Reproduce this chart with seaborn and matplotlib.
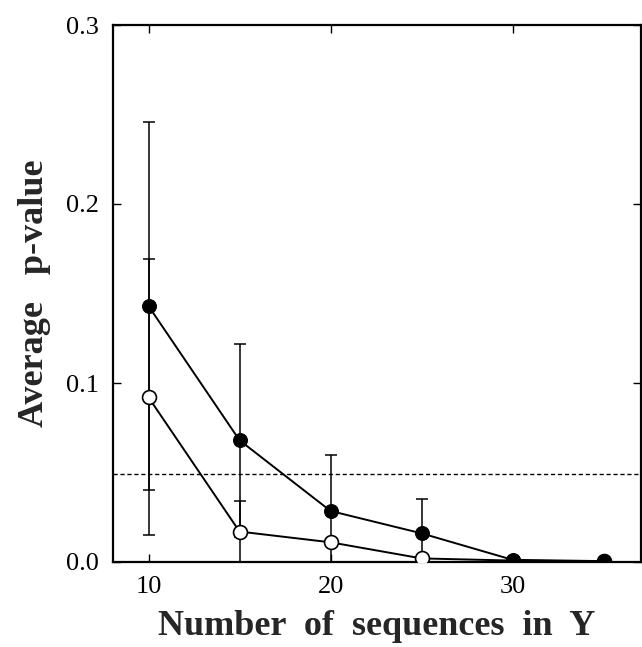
import numpy as np
import pandas as pd
import seaborn as sns
import matplotlib.pyplot as plt

# values
n_seqs = [10, 15, 20, 25, 30, 35]
pval_filled = [0.143, 0.068, 0.0285, 0.016, 0.0012, 0.0005]
err_filled = [0.103, 0.054, 0.0315, 0.019, 0.0, 0.0]
pval_open = [0.092, 0.017, 0.011, 0.002, 0.0008, 0.0003]
err_open = [0.077, 0.017, 0.0, 0.0, 0.0, 0.0]
threshold = 0.049

x_ticks = [10, 20, 30]
y_ticks = [0.0, 0.1, 0.2, 0.3]

sns.set_style('ticks')
plt.rcParams['font.family'] = ['Liberation Serif', 'DejaVu Serif']

df_filled = pd.DataFrame({'n': n_seqs, 'p': pval_filled})
df_open = pd.DataFrame({'n': n_seqs, 'p': pval_open})

fig = plt.figure(figsize=(6.42, 6.47), dpi=100)
ax = fig.add_axes([113 / 642, 85 / 647, 528 / 642, 537 / 647])

# error bars behind the markers
ax.errorbar(n_seqs, pval_open, yerr=err_open, fmt='none', ecolor='black',
            elinewidth=1.1, capsize=4, capthick=1.1, zorder=1)
ax.errorbar(n_seqs, pval_filled, yerr=err_filled, fmt='none', ecolor='black',
            elinewidth=1.1, capsize=4, capthick=1.1, zorder=1)

ax.axhline(threshold, color='black', lw=1.0, ls=(0, (3, 2)), zorder=0)

sns.lineplot(data=df_open, x='n', y='p', ax=ax, color='black', lw=1.4,
             marker='o', markersize=10, markerfacecolor='white',
             markeredgecolor='black', markeredgewidth=1.2, zorder=3)
sns.lineplot(data=df_filled, x='n', y='p', ax=ax, color='black', lw=1.4,
             marker='o', markersize=10, markerfacecolor='black',
             markeredgecolor='black', zorder=4)

ax.set_xlim(8.05, 37.05)
ax.set_ylim(0, 0.3)
ax.set_xticks(x_ticks)
ax.set_yticks(y_ticks)
ax.set_yticklabels([f'{t:.1f}' for t in y_ticks])
ax.tick_params(direction='in', top=True, right=True, length=6, width=1.0,
               labelsize=19, pad=10, color='black', labelcolor='black')

for s in ax.spines.values():
    s.set_linewidth(1.6)
    s.set_color('black')

ax.set_xlabel('Number  of  sequences  in  Y', fontsize=26, fontweight='bold',
              labelpad=9)
ax.set_ylabel('Average   p-value', fontsize=26, fontweight='bold', labelpad=11)

fig.savefig('out.png', dpi=100)
